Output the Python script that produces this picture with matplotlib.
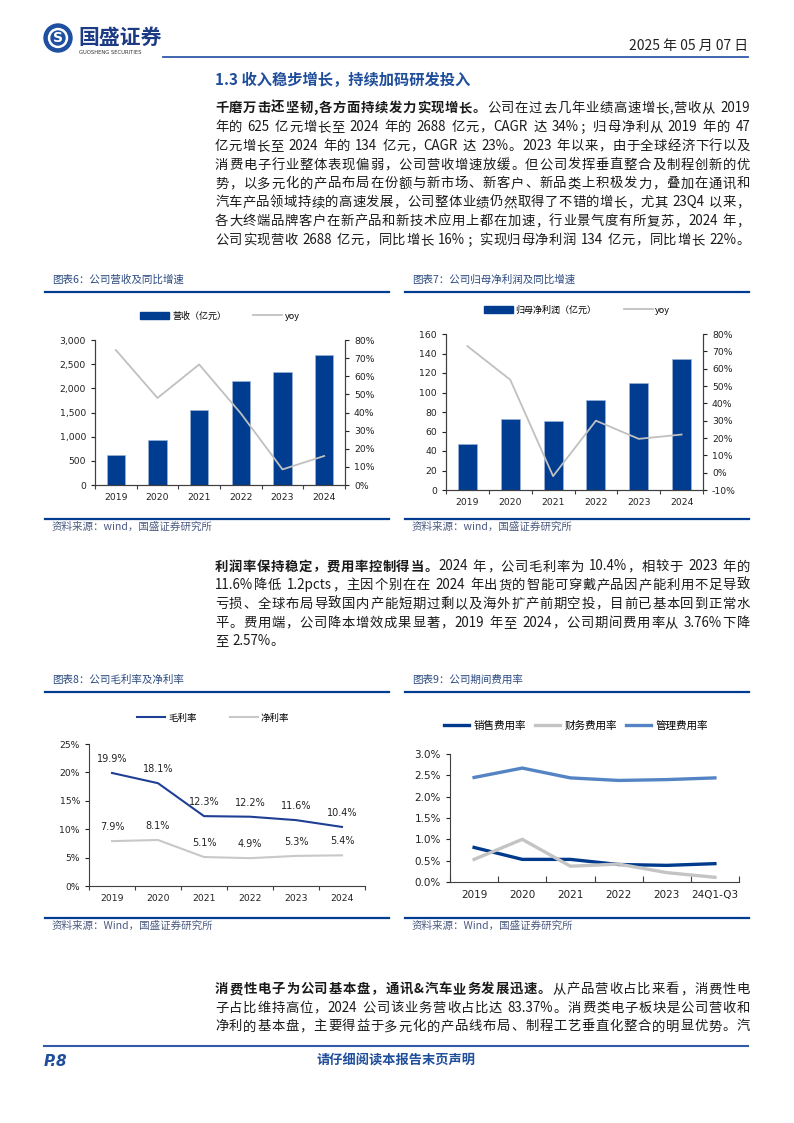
import re
import matplotlib
matplotlib.use("Agg")
import matplotlib.pyplot as plt
from matplotlib.patches import Circle, Patch
from matplotlib.lines import Line2D
from matplotlib.ticker import FuncFormatter, FixedLocator, MultipleLocator

# ---- data ----
years = ["2019", "2020", "2021", "2022", "2023", "2024"]
revenue = [625, 938, 1552, 2152, 2331, 2688]          # 营收（亿元）
revenue_yoy = [74.5, 48.0, 66.5, 39.5, 8.6, 16.0]     # %
net_profit = [47.6, 73.0, 71.2, 92.5, 110.0, 134.0]   # 归母净利润（亿元）
net_profit_yoy = [73.0, 53.6, -2.0, 30.0, 19.5, 22.0]
gross_margin = [19.9, 18.1, 12.3, 12.2, 11.6, 10.4]
net_margin = [7.9, 8.1, 5.1, 4.9, 5.3, 5.4]
expense_periods = ["2019", "2020", "2021", "2022", "2023", "24Q1-Q3"]
selling_rate = [0.81, 0.53, 0.53, 0.41, 0.39, 0.43]
finance_rate = [0.53, 1.00, 0.37, 0.42, 0.22, 0.11]
admin_rate = [2.45, 2.67, 2.44, 2.38, 2.40, 2.44]

section_title = "1.3 收入稳步增长，持续加码研发投入"
para1 = [
    [("千磨万击还坚韧,各方面持续发力实现增长。", True), ("公司在过去几年业绩高速增长,营收从 2019", False)],
    [("年的 625 亿元增长至 2024 年的 2688 亿元，CAGR 达 34%；归母净利从 2019 年的 47", False)],
    [("亿元增长至 2024 年的 134 亿元，CAGR 达 23%。2023 年以来，由于全球经济下行以及", False)],
    [("消费电子行业整体表现偏弱，公司营收增速放缓。但公司发挥垂直整合及制程创新的优", False)],
    [("势，以多元化的产品布局在份额与新市场、新客户、新品类上积极发力，叠加在通讯和", False)],
    [("汽车产品领域持续的高速发展，公司整体业绩仍然取得了不错的增长，尤其 23Q4 以来，", False)],
    [("各大终端品牌客户在新产品和新技术应用上都在加速，行业景气度有所复苏，2024 年，", False)],
    [("公司实现营收 2688 亿元，同比增长 16%；实现归母净利润 134 亿元，同比增长 22%。", False)],
]
para2 = [
    [("利润率保持稳定，费用率控制得当。", True), ("2024 年，公司毛利率为 10.4%，相较于 2023 年的", False)],
    [("11.6%降低 1.2pcts，主因个别在在 2024 年出货的智能可穿戴产品因产能利用不足导致", False)],
    [("亏损、全球布局导致国内产能短期过剩以及海外扩产前期空投，目前已基本回到正常水", False)],
    [("平。费用端，公司降本增效成果显著，2019 年至 2024，公司期间费用率从 3.76%下降", False)],
    [("至 2.57%。", False)],
]
para3 = [
    [("消费性电子为公司基本盘，通讯&汽车业务发展迅速。", True), ("从产品营收占比来看，消费性电", False)],
    [("子占比维持高位，2024 公司该业务营收占比达 83.37%。消费类电子板块是公司营收和", False)],
    [("净利的基本盘，主要得益于多元化的产品线布局、制程工艺垂直化整合的明显优势。汽", False)],
]

W, H = 794, 1123
NAVY = "#003C8F"
TITLE_BLUE = "#1F4E9A"
GREY_LINE = "#C0C0C0"
TEXT = "#1A1A1A"
CJK = ["Noto Sans CJK SC", "DejaVu Sans"]

plt.rcParams["font.family"] = ["DejaVu Sans", "Noto Sans CJK SC"]
plt.rcParams["axes.unicode_minus"] = False

fig = plt.figure(figsize=(W / 100, H / 100), dpi=100)
page = fig.add_axes([0, 0, 1, 1])
page.set_xlim(0, W)
page.set_ylim(H, 0)
page.axis("off")
page.patch.set_visible(False)
renderer = fig.canvas.get_renderer()


def draw_line(y, segments, x0=215, x1=750, size=9.6, justify=True):
    """Write one body line token by token, spreading it to fill x0..x1."""
    items = []
    for txt, bold in segments:
        for tok in re.findall(r"[A-Za-z0-9.%&]+| |.", txt):
            items.append((tok, bold))
    texts, widths = [], []
    for tok, bold in items:
        if tok == " ":
            texts.append(None)
            widths.append(size * 0.3 * 100 / 72)
            continue
        t = page.text(0, y, tok, fontsize=size, family=CJK, color=TEXT,
                      fontweight="bold" if bold else "normal", va="center", ha="left")
        texts.append(t)
        widths.append(t.get_window_extent(renderer).width)
    gap = (x1 - x0 - sum(widths)) / (len(items) - 1) if justify else 0
    x = x0
    for t, w in zip(texts, widths):
        if t is not None:
            t.set_x(x)
        x += w + gap


def draw_paragraph(lines, y0, step=18.85, last_justified=True):
    for i, segs in enumerate(lines):
        just = last_justified or i < len(lines) - 1
        draw_line(y0 + i * step, segs, justify=just)


def chart_axes(l, t, r, b):
    return fig.add_axes([l / W, 1 - b / H, (r - l) / W, (b - t) / H])


def panel_frame(x0, x1, y_title, title, y_src, src):
    page.text(x0 + 7, y_title, title, fontsize=7.6, family=CJK, color="#2B4A80",
              style="italic", va="center")
    page.plot([x0, x1], [y_title + 12, y_title + 12], color=NAVY, lw=1.6)
    page.plot([x0, x1], [y_src, y_src], color=NAVY, lw=1.6)
    page.text(x0 + 7, y_src + 8, src, fontsize=7.6, family=CJK, color="#4A5A80",
              style="italic", va="center")


def style_common(ax, labelsize=6.7):
    ax.spines["top"].set_visible(False)
    for s in ax.spines.values():
        s.set_color("#404040")
        s.set_linewidth(0.8)
    ax.tick_params(labelsize=labelsize, colors="#222222", width=0.8, length=3)
    ax.set_xlim(-0.5, 5.5)
    ax.xaxis.set_minor_locator(FixedLocator([i - 0.5 for i in range(7)]))
    ax.tick_params(axis="x", which="major", length=0, pad=6)
    ax.tick_params(axis="x", which="minor", length=3, width=0.8, color="#404040")


def bar_line_chart(rect, vals, yoy, ymax, ystep, rmin, rmax, bar_label, thousands, leg_x, leg_y):
    ax = chart_axes(*rect)
    x = list(range(len(years)))
    ax.bar(x, vals, width=0.44, color=NAVY, edgecolor="#9DB3D8", linewidth=0.5, zorder=2)
    ax.set_ylim(0, ymax)
    ax.yaxis.set_major_locator(MultipleLocator(ystep))
    if thousands:
        ax.yaxis.set_major_formatter(FuncFormatter(lambda v, p: f"{v:,.0f}"))
    ax.set_xticks(x, years)
    style_common(ax)
    ax2 = ax.twinx()
    ax2.plot(x, yoy, color=GREY_LINE, lw=1.3, zorder=3)
    ax2.set_ylim(rmin, rmax)
    ax2.yaxis.set_major_locator(MultipleLocator(10))
    ax2.yaxis.set_major_formatter(FuncFormatter(lambda v, p: f"{v:.0f}%"))
    ax2.spines["top"].set_visible(False)
    for s in ax2.spines.values():
        s.set_color("#404040")
        s.set_linewidth(0.8)
    ax2.tick_params(labelsize=6.7, colors="#222222", width=0.8, length=3)
    ax.legend([Patch(color=NAVY), Line2D([], [], color=GREY_LINE, lw=1.3)], [bar_label, "yoy"],
              loc="center", bbox_to_anchor=(leg_x, leg_y), ncol=2, frameon=False,
              prop={"family": CJK, "size": 6.5}, handlelength=3.2, handleheight=0.8,
              handletextpad=0.3, columnspacing=3.0)
    return ax


# ---- header ----
page.add_patch(Circle((58, 38), 14, color="#1F4FA0"))
page.add_patch(Circle((58, 38), 9.5, color="white"))
page.add_patch(Circle((58, 38), 7, color="#1F4FA0"))
page.text(58, 38.5, "S", fontsize=10, fontweight="bold", color="white", ha="center", va="center")
page.text(78, 37, "国盛证券", fontsize=15, fontweight="bold", family=CJK, color="#1D3B84", va="center")
page.text(79, 52, "GUOSHENG SECURITIES", fontsize=3.8, color="#333333", va="center")
page.text(748, 46, "2025 年 05 月 07 日", fontsize=10, family=CJK, color="#222222",
          ha="right", va="center")
page.plot([163, 748], [57, 57], color="#2F5BA8", lw=1.3)

page.text(215, 80, section_title, fontsize=11, fontweight="bold", family=CJK,
          color=TITLE_BLUE, va="center")
draw_paragraph(para1, 108)

# ---- charts 6 and 7 ----
panel_frame(45, 389, 280, "图表6：公司营收及同比增速", 519, "资料来源：wind，国盛证券研究所")
panel_frame(405, 749, 280, "图表7：公司归母净利润及同比增速", 519, "资料来源：wind，国盛证券研究所")

bar_line_chart((95, 340, 345, 485), revenue, revenue_yoy, 3000, 500, 0, 80,
               "营收（亿元）", True, 0.5, 1 + 24 / 145)
bar_line_chart((446, 334, 703, 490), net_profit, net_profit_yoy, 160, 20, -10, 80,
               "归母净利润（亿元）", False, 0.51, 1 + 24 / 156)

draw_paragraph(para2, 566.5, step=18.7, last_justified=False)

# ---- charts 8 and 9 ----
panel_frame(45, 389, 680, "图表8：公司毛利率及净利率", 918, "资料来源：Wind，国盛证券研究所")
panel_frame(405, 749, 680, "图表9：公司期间费用率", 918, "资料来源：Wind，国盛证券研究所")

ax8 = chart_axes(89, 744, 365, 886)
x = list(range(len(years)))
ax8.plot(x, gross_margin, color="#1E3F94", lw=1.5, label="毛利率")
ax8.plot(x, net_margin, color="#C8C8C8", lw=1.5, label="净利率")
for xi, g, n in zip(x, gross_margin, net_margin):
    ax8.annotate(f"{g:.1f}%", (xi, g), xytext=(0, 10), textcoords="offset points",
                 ha="center", va="center", fontsize=7, color="#222222")
    ax8.annotate(f"{n:.1f}%", (xi, n), xytext=(0, 10), textcoords="offset points",
                 ha="center", va="center", fontsize=7, color="#222222")
ax8.set_ylim(0, 25)
ax8.yaxis.set_major_locator(MultipleLocator(5))
ax8.yaxis.set_major_formatter(FuncFormatter(lambda v, p: f"{v:.0f}%"))
ax8.set_xticks(x, years)
style_common(ax8)
ax8.spines["right"].set_visible(False)
ax8.legend(loc="center", bbox_to_anchor=(0.45, 1.183), ncol=2, frameon=False,
           prop={"family": CJK, "size": 6.8}, handlelength=3.0,
           handletextpad=0.3, columnspacing=3.5)

ax9 = chart_axes(450, 754, 739, 882)
x = list(range(len(expense_periods)))
ax9.plot(x, selling_rate, color="#003A8C", lw=2.4, label="销售费用率")
ax9.plot(x, finance_rate, color="#C4C4C4", lw=2.4, label="财务费用率")
ax9.plot(x, admin_rate, color="#5584C4", lw=2.4, label="管理费用率")
ax9.set_ylim(0, 3.0)
ax9.yaxis.set_major_locator(MultipleLocator(0.5))
ax9.yaxis.set_major_formatter(FuncFormatter(lambda v, p: f"{v:.1f}%"))
ax9.set_xticks(x, expense_periods)
style_common(ax9, labelsize=7.5)
ax9.spines["right"].set_visible(False)
ax9.tick_params(axis="x", which="minor", direction="in", length=4)
ax9.legend(loc="center", bbox_to_anchor=(0.436, 1.22), ncol=3, frameon=False,
           prop={"family": CJK, "size": 7.6}, handlelength=2.4,
           handletextpad=0.45, columnspacing=0.8)

draw_paragraph(para3, 989, step=18.7)

# ---- footer ----
page.plot([44, 748], [1046, 1046], color="#2F5BA8", lw=1.5)
page.text(44, 1061, "P.8", fontsize=11, fontweight="bold", style="italic",
          color=TITLE_BLUE, va="center")
page.text(396, 1061, "请仔细阅读本报告末页声明", fontsize=9.5, fontweight="bold",
          family=CJK, color=TITLE_BLUE, ha="center", va="center")

fig.savefig("out.png", dpi=100)
